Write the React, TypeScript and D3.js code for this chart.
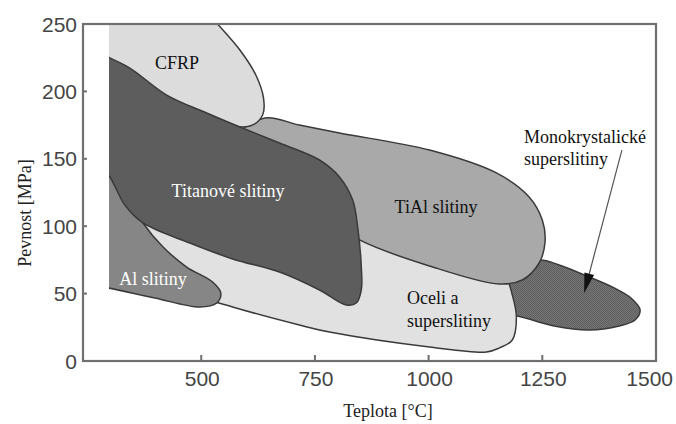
import * as React from 'react';
import * as d3 from 'd3';

// outlines: [teplota °C, pevnost MPa]
const cfrp: [number, number][] = [
  [266, 260], [510, 260], [536, 250], [585, 230.7], [620, 212.2], [637, 195],
  [635, 182.5], [607, 174.3], [497, 180.3], [387, 201], [266, 219.6],
];
const titan: [number, number][] = [
  [266, 230.7], [295, 225.5], [343, 217.3], [424, 197.3], [512, 184], [585, 173.6],
  [672, 161.7], [760, 149.1], [804, 136.5], [833, 119.4], [844, 99.4], [852, 69.7],
  [852, 52.7], [841, 43], [819, 41.5], [760, 52.7], [672, 66], [569, 75.7],
  [475, 87.5], [372, 102.4], [332, 115.7], [299, 136.5], [266, 149],
];
const tial: [number, number][] = [
  [585, 167.6], [640, 180.3], [716, 175], [804, 169.1], [1002, 156.5], [1149, 139.5],
  [1221, 121.7], [1250, 104.6], [1256, 88.3], [1243, 72.7], [1206, 60.1], [1155, 57.1],
  [1002, 70.5], [848, 89.8], [716, 119.4],
];
const hlinik: [number, number][] = [
  [266, 55.6], [295, 54.2], [398, 46.7], [497, 40], [534, 43], [543, 50.4],
  [525, 58.6], [468, 69.7], [416, 84.6], [372, 102.4], [332, 126.8], [277, 156.5],
];
const ocel: [number, number][] = [
  [387, 108.3], [607, 95], [826, 100], [980, 95], [1111, 85], [1166, 66],
  [1184, 49], [1193, 32.6], [1184, 15.6], [1155, 9.6], [1127, 6.7], [1002, 10.4],
  [782, 21.5], [716, 26.7], [569, 40.1], [508, 46.7], [453, 58.6], [343, 74.9],
];
const mono: [number, number][] = [
  [1199, 67.5], [1243, 74.9], [1287, 71.2], [1353, 62.3], [1408, 54.2], [1445, 46.7],
  [1465, 37.8], [1454, 30.4], [1419, 26], [1353, 23], [1276, 26], [1221, 31.2],
  [1177, 36.3], [1166, 49],
];

const xTicks = [500, 750, 1000, 1250, 1500];
const yTicks = [0, 50, 100, 150, 200, 250];
const arrowFrom: [number, number] = [1425, 156.5];
const arrowTo: [number, number] = [1342, 50.4];

export default function App() {
  const width = 676;
  const height = 424;
  const x = d3.scaleLinear().domain([240, 1500]).range([83, 656]);
  const y = d3.scaleLinear().domain([0, 250]).range([361, 24]);

  const shape = d3
    .line<[number, number]>()
    .x((d) => x(d[0]))
    .y((d) => y(d[1]))
    .curve(d3.curveCatmullRomClosed.alpha(0.5));

  const outline = '#3a3a3a';
  const serif = '"Liberation Serif", "Times New Roman", serif';
  const sans = '"Liberation Sans", Arial, sans-serif';

  // arrow head
  const ax0 = x(arrowFrom[0]), ay0 = y(arrowFrom[1]);
  const ax1 = x(arrowTo[0]), ay1 = y(arrowTo[1]);
  const len = Math.hypot(ax1 - ax0, ay1 - ay0);
  const ux = (ax1 - ax0) / len, uy = (ay1 - ay0) / len;
  const hl = 20, hw = 5;
  const bx = ax1 - ux * hl, by = ay1 - uy * hl;
  const head = `M${ax1},${ay1}L${bx - uy * hw},${by + ux * hw}L${bx + uy * hw},${by - ux * hw}Z`;

  const regions = [
    { pts: mono, fill: 'url(#hatch)' },
    { pts: ocel, fill: '#e1e1e1' },
    { pts: tial, fill: '#a9a9a9' },
    { pts: cfrp, fill: '#dcdcdc' },
    { pts: hlinik, fill: '#868686' },
    { pts: titan, fill: '#5d5d5d' },
  ];

  return (
    <svg
      width={width}
      height={height}
      style={{ position: 'absolute', left: 0, top: 0, background: '#fff' }}
    >
      <defs>
        <clipPath id="plot">
          <rect x={x(297)} y={y(250)} width={x(1500) - x(297)} height={y(0) - y(250)} />
        </clipPath>
        <pattern id="hatch" width="2" height="2" patternUnits="userSpaceOnUse">
          <rect width="2" height="2" fill="#767676" />
          <rect width="1" height="1" fill="#5f5f5f" />
          <rect x="1" y="1" width="1" height="1" fill="#5f5f5f" />
        </pattern>
      </defs>

      <g clipPath="url(#plot)">
        {regions.map((r, i) => (
          <path key={i} d={shape(r.pts) || ''} fill={r.fill} stroke={outline} strokeWidth={1.5} />
        ))}
      </g>

      {/* frame */}
      <rect x={x(240)} y={y(250)} width={x(1500) - x(240)} height={y(0) - y(250)}
        fill="none" stroke="#707070" strokeWidth={2.2} />

      {/* y axis */}
      {yTicks.map((t) => (
        <g key={t}>
          {t > 0 && t < 250 && (
            <line x1={x(240)} x2={x(240) + 4} y1={y(t)} y2={y(t)} stroke="#707070" strokeWidth={2} />
          )}
          <text x={77} y={y(t)} dy="0.36em" textAnchor="end" fontFamily={sans} fontSize={21} fill="#444">
            {t}
          </text>
        </g>
      ))}

      {/* x axis */}
      {xTicks.map((t) => (
        <g key={t}>
          {t < 1500 && (
            <line x1={x(t)} x2={x(t)} y1={y(0)} y2={y(0) - 6} stroke="#707070" strokeWidth={2} />
          )}
          <text
            x={t === 1500 ? 673 : x(t) + 1}
            y={386}
            textAnchor={t === 1500 ? 'end' : 'middle'}
            fontFamily={sans}
            fontSize={21}
            fill="#444"
          >
            {t}
          </text>
        </g>
      ))}

      <text transform="translate(31,213) rotate(-90)" textAnchor="middle" fontFamily={serif} fontSize={18} fill="#222">
        Pevnost [MPa]
      </text>
      <text x={388} y={417} textAnchor="middle" fontFamily={serif} fontSize={18} fill="#222">
        Teplota [°C]
      </text>

      {/* arrow */}
      <line x1={ax0} y1={ay0} x2={bx} y2={by} stroke="#555" strokeWidth={1.2} />
      <path d={head} fill="#111" />

      {/* labels */}
      <g fontFamily={serif} fontSize={18}>
        <text x={177} y={69} textAnchor="middle" fill="#111">CFRP</text>
        <text x={228} y={197} textAnchor="middle" fill="#fff">Titanové slitiny</text>
        <text x={436} y={213} textAnchor="middle" fill="#111">TiAl slitiny</text>
        <text x={153} y={285} textAnchor="middle" fill="#fff">Al slitiny</text>
        <text x={407} y={304} fill="#111">Oceli a</text>
        <text x={407} y={327} fill="#111">superslitiny</text>
        <text x={524} y={143} fill="#111">Monokrystalické</text>
        <text x={524} y={165} fill="#111">superslitiny</text>
      </g>
    </svg>
  );
}
